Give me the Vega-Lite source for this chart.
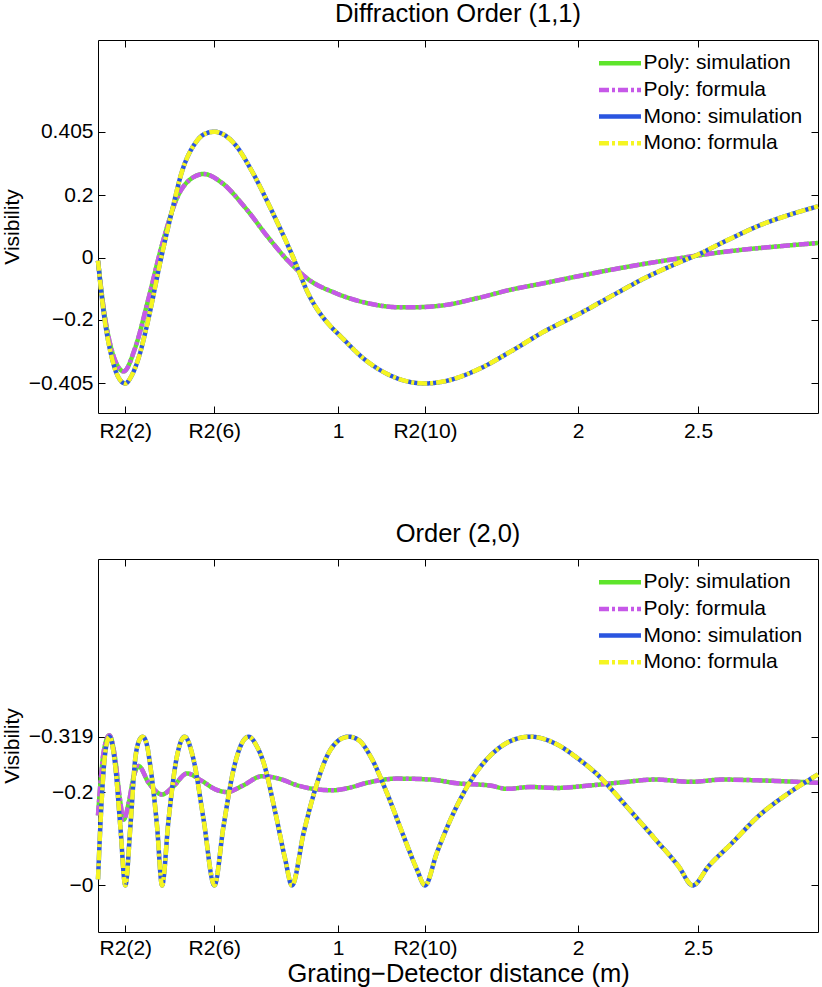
{
  "$schema": "https://vega.github.io/schema/vega-lite/v6.json",
  "padding": {"left": 0, "top": 1, "right": 0, "bottom": 0},
  "background": "white",
  "config": {
    "font": "Liberation Sans",
    "view": {"stroke": "#000", "strokeWidth": 1},
    "axis": {
      "grid": false,
      "domain": false,
      "tickColor": "#000",
      "tickSize": -7,
      "labelFont": "Liberation Sans",
      "labelFontSize": 21,
      "labelColor": "#000",
      "titleFont": "Liberation Sans",
      "titleColor": "#000",
      "titleFontWeight": "normal"
    },
    "axisX": {"labelPadding": 14},
    "axisY": {"labelPadding": 12},
    "legend": {
      "orient": "none",
      "legendX": 498.5,
      "legendY": 10.2,
      "padding": 0,
      "labelFont": "Liberation Sans",
      "labelFontSize": 21,
      "labelColor": "#000",
      "symbolType": "M-1,0L3,0",
      "symbolSize": 441,
      "symbolStrokeWidth": 5,
      "labelOffset": 21,
      "rowPadding": 3.7,
      "title": null
    },
    "title": {
      "font": "Liberation Sans",
      "fontSize": 25.5,
      "fontWeight": "normal",
      "color": "#000",
      "baseline": "alphabetic",
      "anchor": "middle"
    },
    "line": {"interpolate": "monotone", "strokeWidth": 4.5}
  },
  "datasets": {
    "top_poly": [
      {"x": 0.0, "v": -0.01}, {"x": 0.023, "v": -0.16}, {"x": 0.058, "v": -0.3},
      {"x": 0.107, "v": -0.366}, {"x": 0.155, "v": -0.29}, {"x": 0.211, "v": -0.13},
      {"x": 0.267, "v": 0.042}, {"x": 0.336, "v": 0.203}, {"x": 0.392, "v": 0.256},
      {"x": 0.44, "v": 0.269}, {"x": 0.517, "v": 0.24}, {"x": 0.614, "v": 0.16},
      {"x": 0.711, "v": 0.063}, {"x": 0.794, "v": -0.012}, {"x": 0.878, "v": -0.071},
      {"x": 0.989, "v": -0.114}, {"x": 1.12, "v": -0.146}, {"x": 1.26, "v": -0.16},
      {"x": 1.305, "v": -0.16}, {"x": 1.444, "v": -0.153}, {"x": 1.583, "v": -0.13},
      {"x": 1.722, "v": -0.103}, {"x": 1.861, "v": -0.082}, {"x": 2.0, "v": -0.06},
      {"x": 2.139, "v": -0.039}, {"x": 2.278, "v": -0.02}, {"x": 2.417, "v": -0.003},
      {"x": 2.555, "v": 0.013}, {"x": 2.694, "v": 0.026}, {"x": 2.833, "v": 0.036},
      {"x": 3.0, "v": 0.047}
    ],
    "top_mono": [
      {"x": 0.0, "v": -0.01}, {"x": 0.023, "v": -0.173}, {"x": 0.058, "v": -0.323},
      {"x": 0.085, "v": -0.385}, {"x": 0.114, "v": -0.405}, {"x": 0.14, "v": -0.38},
      {"x": 0.169, "v": -0.323}, {"x": 0.211, "v": -0.194}, {"x": 0.26, "v": -0.012},
      {"x": 0.308, "v": 0.149}, {"x": 0.35, "v": 0.277}, {"x": 0.405, "v": 0.368},
      {"x": 0.445, "v": 0.398}, {"x": 0.485, "v": 0.405}, {"x": 0.525, "v": 0.395},
      {"x": 0.572, "v": 0.363}, {"x": 0.642, "v": 0.277}, {"x": 0.725, "v": 0.149},
      {"x": 0.808, "v": 0.01}, {"x": 0.878, "v": -0.119}, {"x": 0.975, "v": -0.226},
      {"x": 1.0, "v": -0.245}, {"x": 1.12, "v": -0.333}, {"x": 1.26, "v": -0.392},
      {"x": 1.3625, "v": -0.405}, {"x": 1.444, "v": -0.398}, {"x": 1.583, "v": -0.36},
      {"x": 1.722, "v": -0.301}, {"x": 1.861, "v": -0.237}, {"x": 2.0, "v": -0.183},
      {"x": 2.139, "v": -0.124}, {"x": 2.278, "v": -0.066}, {"x": 2.417, "v": -0.017},
      {"x": 2.5, "v": 0.01}, {"x": 2.625, "v": 0.057}, {"x": 2.764, "v": 0.106},
      {"x": 2.903, "v": 0.143}, {"x": 3.0, "v": 0.165}
    ],
    "bot_poly": [
      {"x": 0.0, "v": 0.15}, {"x": 0.012, "v": 0.23}, {"x": 0.023, "v": 0.284},
      {"x": 0.047, "v": 0.322}, {"x": 0.072, "v": 0.27}, {"x": 0.09, "v": 0.19},
      {"x": 0.107, "v": 0.141}, {"x": 0.128, "v": 0.177}, {"x": 0.149, "v": 0.234},
      {"x": 0.169, "v": 0.256}, {"x": 0.211, "v": 0.22}, {"x": 0.267, "v": 0.195},
      {"x": 0.315, "v": 0.213}, {"x": 0.371, "v": 0.24}, {"x": 0.433, "v": 0.224},
      {"x": 0.489, "v": 0.206}, {"x": 0.537, "v": 0.2}, {"x": 0.6, "v": 0.213},
      {"x": 0.683, "v": 0.234}, {"x": 0.767, "v": 0.227}, {"x": 0.822, "v": 0.216},
      {"x": 0.912, "v": 0.206}, {"x": 0.982, "v": 0.204}, {"x": 1.044, "v": 0.209},
      {"x": 1.121, "v": 0.22}, {"x": 1.246, "v": 0.229}, {"x": 1.385, "v": 0.227},
      {"x": 1.496, "v": 0.219}, {"x": 1.635, "v": 0.214}, {"x": 1.704, "v": 0.207},
      {"x": 1.801, "v": 0.211}, {"x": 1.912, "v": 0.209}, {"x": 2.044, "v": 0.214},
      {"x": 2.183, "v": 0.221}, {"x": 2.322, "v": 0.227}, {"x": 2.475, "v": 0.222},
      {"x": 2.6, "v": 0.227}, {"x": 2.767, "v": 0.225}, {"x": 3.0, "v": 0.22}
    ],
    "bot_mono": [
      {"x": 0.0, "v": 0.013}, {"x": 0.017, "v": 0.198}, {"x": 0.03, "v": 0.284},
      {"x": 0.047, "v": 0.319}, {"x": 0.06, "v": 0.3}, {"x": 0.072, "v": 0.256},
      {"x": 0.093, "v": 0.127}, {"x": 0.114, "v": 0.0}, {"x": 0.135, "v": 0.127},
      {"x": 0.155, "v": 0.27}, {"x": 0.171, "v": 0.31}, {"x": 0.186, "v": 0.319},
      {"x": 0.202, "v": 0.305}, {"x": 0.218, "v": 0.256}, {"x": 0.246, "v": 0.127},
      {"x": 0.267, "v": 0.0}, {"x": 0.294, "v": 0.141}, {"x": 0.329, "v": 0.277},
      {"x": 0.361, "v": 0.319}, {"x": 0.398, "v": 0.27}, {"x": 0.44, "v": 0.141},
      {"x": 0.485, "v": 0.0}, {"x": 0.523, "v": 0.127}, {"x": 0.565, "v": 0.249},
      {"x": 0.595, "v": 0.3}, {"x": 0.628, "v": 0.319}, {"x": 0.66, "v": 0.3},
      {"x": 0.69, "v": 0.263}, {"x": 0.739, "v": 0.156}, {"x": 0.78, "v": 0.056},
      {"x": 0.808, "v": 0.0}, {"x": 0.857, "v": 0.113}, {"x": 0.905, "v": 0.206},
      {"x": 0.954, "v": 0.277}, {"x": 1.0, "v": 0.31}, {"x": 1.044, "v": 0.319},
      {"x": 1.09, "v": 0.31}, {"x": 1.135, "v": 0.277}, {"x": 1.204, "v": 0.198},
      {"x": 1.273, "v": 0.106}, {"x": 1.329, "v": 0.034}, {"x": 1.3625, "v": 0.0},
      {"x": 1.412, "v": 0.07}, {"x": 1.482, "v": 0.156}, {"x": 1.565, "v": 0.234},
      {"x": 1.662, "v": 0.291}, {"x": 1.73, "v": 0.312}, {"x": 1.801, "v": 0.319},
      {"x": 1.91, "v": 0.303}, {"x": 2.0, "v": 0.272}, {"x": 2.08, "v": 0.238},
      {"x": 2.15, "v": 0.2}, {"x": 2.225, "v": 0.156}, {"x": 2.322, "v": 0.099},
      {"x": 2.419, "v": 0.041}, {"x": 2.478, "v": 0.0}, {"x": 2.544, "v": 0.041},
      {"x": 2.642, "v": 0.091}, {"x": 2.753, "v": 0.149}, {"x": 2.878, "v": 0.198},
      {"x": 3.0, "v": 0.238}
    ]
  },
  "bounds": "flush",
  "spacing": 146,
  "resolve": {"scale": {"color": "independent", "strokeDash": "independent"}},
  "vconcat": [
    {
      "width": 720,
      "height": 373,
      "title": {"text": "Diffraction Order (1,1)", "offset": 12},
      "resolve": {"axis": {"x": "independent", "y": "independent"}},
      "layer": [
        {
          "data": {"name": "top_poly"},
          "mark": "line",
          "encoding": {
            "x": {"field": "x", "type": "quantitative", "scale": {"domain": [0, 3]},
              "axis": {"orient": "bottom", "title": null, "values": [0.1138, 0.4846, 1, 1.3624, 2, 2.5],
                "labelExpr": "datum.value < 0.2 ? 'R2(2)' : datum.value < 0.6 ? 'R2(6)' : datum.value == 1 ? '1' : datum.value < 1.5 ? 'R2(10)' : datum.value == 2 ? '2' : '2.5'"}},
            "y": {"field": "v", "type": "quantitative", "scale": {"domain": [-0.5, 0.7]},
              "axis": {"orient": "left", "title": "Visibility", "titleFontSize": 21, "titleX": -80, "titleBaseline": "alphabetic",
                "values": [-0.405, -0.2, 0, 0.2, 0.405],
                "labelExpr": "datum.value == 0 ? '0' : datum.value > 0 ? format(datum.value, '.3~f') : '\u2212' + format(-datum.value, '.3~f')"}},
            "color": {"datum": "Poly: simulation", "type": "nominal",
              "scale": {"domain": ["Poly: simulation", "Poly: formula", "Mono: simulation", "Mono: formula"], "range": ["#5ee52b", "#c658e8", "#2a55e0", "#f5f522"]}},
            "strokeDash": {"datum": "Poly: simulation", "type": "nominal",
              "scale": {"domain": ["Poly: simulation", "Poly: formula", "Mono: simulation", "Mono: formula"], "range": [[1, 0], [10, 3, 3, 3], [1, 0], [10, 3, 3, 3]]}}
          }
        },
        {
          "data": {"name": "top_poly"},
          "mark": "line",
          "encoding": {
            "x": {"field": "x", "type": "quantitative", "scale": {"domain": [0, 3]},
              "axis": {"orient": "top", "title": null, "labels": false, "values": [0.1138, 0.4846, 1, 1.3624, 2, 2.5]}},
            "y": {"field": "v", "type": "quantitative", "scale": {"domain": [-0.5, 0.7]},
              "axis": {"orient": "right", "title": null, "labels": false, "values": [-0.405, -0.2, 0, 0.2, 0.405]}},
            "color": {"datum": "Poly: formula", "type": "nominal"},
            "strokeDash": {"datum": "Poly: formula", "type": "nominal"}
          }
        },
        {
          "data": {"name": "top_mono"},
          "mark": "line",
          "encoding": {
            "x": {"field": "x", "type": "quantitative", "axis": null},
            "y": {"field": "v", "type": "quantitative", "axis": null},
            "color": {"datum": "Mono: simulation", "type": "nominal"},
            "strokeDash": {"datum": "Mono: simulation", "type": "nominal"}
          }
        },
        {
          "data": {"name": "top_mono"},
          "mark": "line",
          "encoding": {
            "x": {"field": "x", "type": "quantitative", "axis": null},
            "y": {"field": "v", "type": "quantitative", "axis": null},
            "color": {"datum": "Mono: formula", "type": "nominal"},
            "strokeDash": {"datum": "Mono: formula", "type": "nominal"}
          }
        }
      ]
    },
    {
      "width": 720,
      "height": 373,
      "title": {"text": "Order (2,0)", "offset": 11.5},
      "resolve": {"axis": {"x": "independent", "y": "independent"}},
      "layer": [
        {
          "data": {"name": "bot_poly"},
          "mark": "line",
          "encoding": {
            "x": {"field": "x", "type": "quantitative", "scale": {"domain": [0, 3]},
              "axis": {"orient": "bottom", "title": "Grating\u2212Detector distance (m)", "titleFontSize": 25.5, "titleY": 49.5, "titleBaseline": "alphabetic",
                "labelPadding": 12.5,
                "values": [0.1138, 0.4846, 1, 1.3624, 2, 2.5],
                "labelExpr": "datum.value < 0.2 ? 'R2(2)' : datum.value < 0.6 ? 'R2(6)' : datum.value == 1 ? '1' : datum.value < 1.5 ? 'R2(10)' : datum.value == 2 ? '2' : '2.5'"}},
            "y": {"field": "v", "type": "quantitative", "scale": {"domain": [-0.1, 0.7]},
              "axis": {"orient": "left", "title": "Visibility", "titleFontSize": 21, "titleX": -80, "titleBaseline": "alphabetic",
                "values": [0, 0.2, 0.319],
                "labelExpr": "'\u2212' + format(datum.value, '.3~f')"}},
            "color": {"datum": "Poly: simulation", "type": "nominal",
              "scale": {"domain": ["Poly: simulation", "Poly: formula", "Mono: simulation", "Mono: formula"], "range": ["#5ee52b", "#c658e8", "#2a55e0", "#f5f522"]}},
            "strokeDash": {"datum": "Poly: simulation", "type": "nominal",
              "scale": {"domain": ["Poly: simulation", "Poly: formula", "Mono: simulation", "Mono: formula"], "range": [[1, 0], [10, 3, 3, 3], [1, 0], [10, 3, 3, 3]]}}
          }
        },
        {
          "data": {"name": "bot_poly"},
          "mark": "line",
          "encoding": {
            "x": {"field": "x", "type": "quantitative", "scale": {"domain": [0, 3]},
              "axis": {"orient": "top", "title": null, "labels": false, "values": [0.1138, 0.4846, 1, 1.3624, 2, 2.5]}},
            "y": {"field": "v", "type": "quantitative", "scale": {"domain": [-0.1, 0.7]},
              "axis": {"orient": "right", "title": null, "labels": false, "values": [0, 0.2, 0.319]}},
            "color": {"datum": "Poly: formula", "type": "nominal"},
            "strokeDash": {"datum": "Poly: formula", "type": "nominal"}
          }
        },
        {
          "data": {"name": "bot_mono"},
          "mark": "line",
          "encoding": {
            "x": {"field": "x", "type": "quantitative", "axis": null},
            "y": {"field": "v", "type": "quantitative", "axis": null},
            "color": {"datum": "Mono: simulation", "type": "nominal"},
            "strokeDash": {"datum": "Mono: simulation", "type": "nominal"}
          }
        },
        {
          "data": {"name": "bot_mono"},
          "mark": "line",
          "encoding": {
            "x": {"field": "x", "type": "quantitative", "axis": null},
            "y": {"field": "v", "type": "quantitative", "axis": null},
            "color": {"datum": "Mono: formula", "type": "nominal"},
            "strokeDash": {"datum": "Mono: formula", "type": "nominal"}
          }
        }
      ]
    }
  ]
}
